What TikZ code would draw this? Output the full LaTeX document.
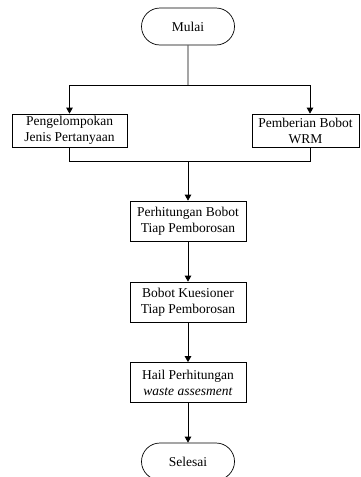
\documentclass[tikz,border=0pt]{standalone}
\usepackage{fontspec}
\setmainfont{Liberation Serif}
\usetikzlibrary{shapes,arrows.meta,positioning}

\begin{document}
\begin{tikzpicture}[x=1pt,y=-1pt]
			\tikzstyle{Terminal}	= [rounded rectangle, draw, line width=0.7pt, minimum width=93pt, minimum height=37pt, inner sep=0pt, font=\fontsize{13.5}{16}\selectfont]
			\tikzstyle{Process}	= [rectangle, draw, line width=0.7pt, align=center, inner sep=0pt, font=\fontsize{13.5}{16}\selectfont]
			\tikzstyle{Side}	= [minimum height=33pt]
			\tikzstyle{Mid}		= [minimum width=116pt, minimum height=40pt]
			\tikzstyle{Flow}	= [line width=0.7pt]
			\tikzstyle{Arrow}	= [Flow, -{Triangle[length=6pt,width=6.5pt]}]

			\clip (0,0) rectangle (360,477);

			\node (mulai) at (188,26.5) [Terminal] {Mulai};
			\node (kelompok) at (69.5,130.5) [Process][Side, minimum width=115pt] {Pengelompokan\\Jenis Pertanyaan};
			\node (wrm) at (305.5,130.5) [Process][Side, minimum width=107pt] {Pemberian Bobot\\WRM};
			\node (hitung) at (188,221) [Process][Mid] {Perhitungan Bobot\\Tiap Pemborosan};
			\node (kuesioner) at (188,302) [Process][Mid] {Bobot Kuesioner\\Tiap Pemborosan};
			\node (hasil) at (188,382.5) [Process][Mid] {Hail Perhitungan\\\textit{waste assesment}};
			\node (selesai) at (188,461.5) [Terminal] {Selesai};

			\coordinate (split) at (188,85);
			\coordinate (join) at (188,161);

			\draw [Flow] (mulai) -- (split);
			\draw [Arrow] (split) -| (kelompok);
			\draw [Arrow] (split) -| ([xshift=4.5pt]wrm.north);
			\draw [Flow] (kelompok) |- (join);
			\draw [Flow] ([xshift=4.5pt]wrm.south) |- (join);
			\draw [Arrow] (join) -- (hitung);
			\draw [Arrow] (hitung) -- (kuesioner);
			\draw [Arrow] (kuesioner) -- (hasil);
			\draw [Arrow] (hasil) -- (selesai);
		\end{tikzpicture}
\end{document}
